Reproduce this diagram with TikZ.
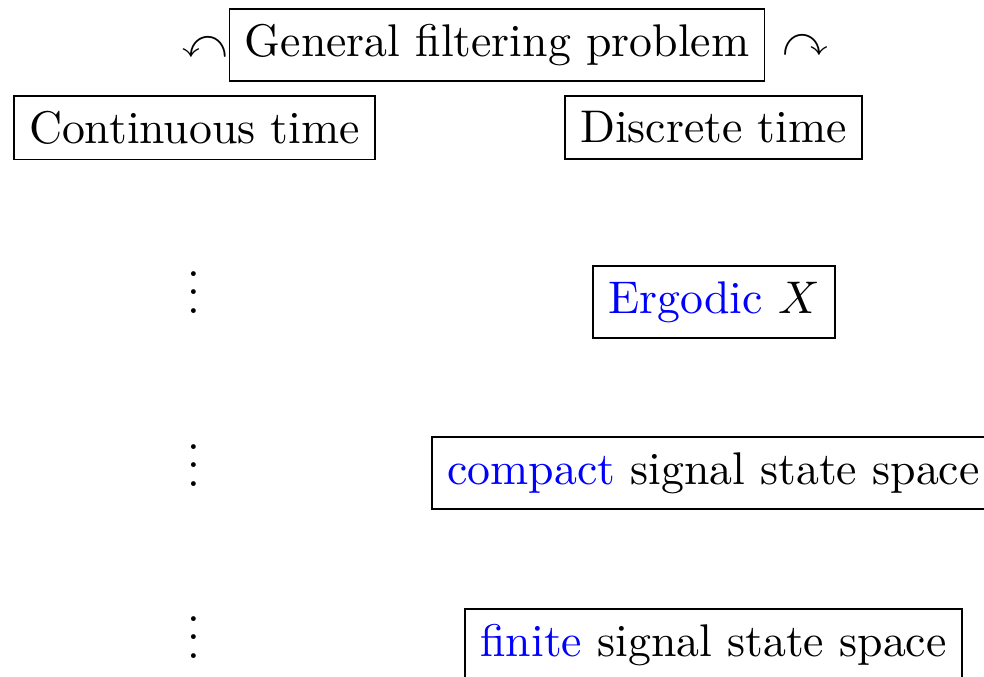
\documentclass[tikz,border=0pt]{standalone}
\usepackage{amssymb}
\begin{document}
\begin{tikzpicture}[x=0.2184pt,y=-0.2184pt,
  boxed/.style={draw,line width=0.4pt,inner sep=0.3333em},
  arrowsym/.style={inner sep=0pt},
  dotsym/.style={inner sep=0pt,anchor=base}]
\useasboundingbox (0,0) rectangle (984,676);
\node[boxed] (gen) at (497,45) {General filtering problem};
\node[arrowsym] (al) at (205,48) {$\curvearrowleft$};
\node[arrowsym] (ar) at (805,46) {$\curvearrowright$};
\node[boxed] (ct) at (194.5,127.5) {Continuous time};
\node[boxed] (dt) at (713.5,127.5) {Discrete time};
\node[dotsym] (d1) at (194,313) {$\vdots$};
\node[dotsym] (d2) at (194,486) {$\vdots$};
\node[dotsym] (d3) at (194,658) {$\vdots$};
\node[boxed] (erg) at (714,302) {\textcolor{blue}{Ergodic} $X$};
\node[boxed] (cmp) at (713.5,473) {\textcolor{blue}{compact} signal state space};
\node[boxed] (fin) at (713.5,645) {\textcolor{blue}{finite} signal state space};
\end{tikzpicture}
\end{document}
